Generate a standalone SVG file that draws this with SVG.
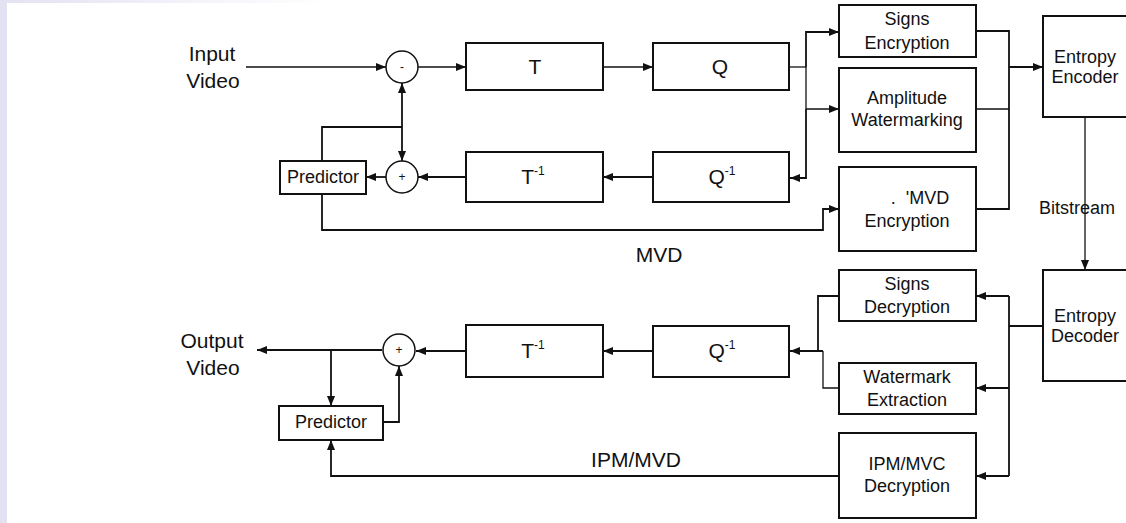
<svg xmlns="http://www.w3.org/2000/svg" width="1126" height="523" viewBox="0 0 1126 523">
<style>
text{font-family:"Liberation Sans",Arial,sans-serif;fill:#111;text-anchor:middle}
.t{font-size:18px}
.big{font-size:21px}
.op{font-size:12px}
.box{fill:#fff;stroke:#111;stroke-width:2}
.c{fill:none;stroke:#111;stroke-width:1.8}
.thin{stroke-width:1.3}
.arr{marker-end:url(#a)}
</style>
<defs>
<marker id="a" markerUnits="userSpaceOnUse" markerWidth="10" markerHeight="8" refX="10" refY="4" orient="auto">
<path d="M0,0 L10,4 L0,8 z" fill="#111"/>
</marker>
<linearGradient id="g" x1="0" x2="1" y1="0" y2="0">
<stop offset="0" stop-color="#e2e2f2"/>
<stop offset="1" stop-color="#ffffff"/>
</linearGradient>
</defs>
<rect width="1126" height="523" fill="#fff"/>
<rect x="0" y="0" width="330" height="3" fill="url(#g)"/>
<rect x="0" y="0" width="7" height="523" fill="#e2e2f2"/>

<g id="connectors">
<path class="c thin arr" d="M246,67 H386"/>
<path class="c thin arr" d="M418,67 H466"/>
<path class="c thin arr" d="M603,67 H653"/>
<path class="c thin" d="M789,67 H806"/>
<path class="c arr" d="M806,67 V32 H839"/>
<path class="c thin arr" d="M806,67 V109 H839"/>
<path class="c arr" d="M806,109 V178 H790"/>
<path class="c arr" d="M653,177 H603"/>
<path class="c arr" d="M466,177 H418"/>
<path class="c arr" d="M386,177 H366"/>
<path class="c" d="M322,161 V127 H402"/>
<path class="c arr" d="M402,127 V83"/>
<path class="c arr" d="M402,127 V161"/>
<path class="c arr" d="M322,194 V230 H823 V209 H839"/>
<path class="c" d="M976,31 H1009 V209 H976"/>
<path class="c thin" d="M976,109 H1009"/>
<path class="c arr" d="M1009,67 H1043"/>
<path class="c thin arr" d="M1085,117 V270"/>
<path class="c" d="M1043,326 H1009"/>
<path class="c" d="M1009,296 V476"/>
<path class="c arr" d="M1009,296 H976"/>
<path class="c arr" d="M1009,388 H976"/>
<path class="c arr" d="M1009,476 H976"/>
<path class="c" d="M839,296 H818 V351"/>
<path class="c thin" d="M839,388 H823 V351"/>
<path class="c arr" d="M823,351 H790"/>
<path class="c arr" d="M653,351 H603"/>
<path class="c arr" d="M466,351 H416"/>
<path class="c arr" d="M382,350 H257"/>
<path class="c arr" d="M331,350 V406"/>
<path class="c arr" d="M383,422 H399 V366"/>
<path class="c arr" d="M839,476 H331 V440"/>
</g>

<g id="labels">
<text class="big" x="212" y="61">Input</text>
<text class="big" x="213" y="88">Video</text>
<text class="big" x="212" y="348">Output</text>
<text class="big" x="213" y="375">Video</text>
<text class="big" x="659" y="262">MVD</text>
<text class="big" x="636" y="467">IPM/MVD</text>
<text class="t" x="1077" y="214">Bitstream</text>
</g>

<g id="sub1"><circle cx="402" cy="67" r="16" fill="#fff" stroke="#111" stroke-width="1.5"/><text class="op" x="402" y="71">-</text></g>
<g id="add1"><circle cx="402" cy="177" r="16" fill="#fff" stroke="#111" stroke-width="1.5"/><text class="op" x="402" y="181">+</text></g>
<g id="add2"><circle cx="399" cy="350" r="16" fill="#fff" stroke="#111" stroke-width="1.5"/><text class="op" x="399" y="354">+</text></g>

<g id="T"><rect class="box" x="466" y="43" width="137" height="47"/><text class="big" x="535" y="74">T</text></g>
<g id="Q"><rect class="box" x="653" y="43" width="136" height="47"/><text class="big" x="720" y="74">Q</text></g>
<g id="Tinv1"><rect class="box" x="466" y="152" width="137" height="50"/><text class="big" x="533" y="184">T<tspan font-size="12" dy="-9">-1</tspan></text></g>
<g id="Qinv1"><rect class="box" x="653" y="152" width="136" height="50"/><text class="big" x="722" y="184">Q<tspan font-size="12" dy="-9">-1</tspan></text></g>
<g id="pred1"><rect class="box" x="280" y="161" width="86" height="33"/><text class="t" x="323" y="183">Predictor</text></g>

<g id="signsEnc"><rect class="box" x="839" y="5" width="137" height="52"/><text class="t" x="907" y="25">Signs</text><text class="t" x="907" y="49">Encryption</text></g>
<g id="ampWm"><rect class="box" x="839" y="68" width="137" height="84"/><text class="t" x="907" y="104">Amplitude</text><text class="t" x="907" y="126">Watermarking</text></g>
<g id="mvdEnc"><rect class="box" x="839" y="167" width="137" height="84"/><text class="t" x="920" y="204" xml:space="preserve">.  'MVD</text><text class="t" x="907" y="227">Encryption</text></g>
<g id="entEnc"><rect class="box" x="1043" y="16" width="90" height="101"/><text class="t" x="1085" y="63">Entropy</text><text class="t" x="1085" y="83">Encoder</text></g>

<g id="entDec"><rect class="box" x="1043" y="270" width="90" height="111"/><text class="t" x="1085" y="322">Entropy</text><text class="t" x="1085" y="342">Decoder</text></g>
<g id="signsDec"><rect class="box" x="839" y="270" width="137" height="51"/><text class="t" x="907" y="290">Signs</text><text class="t" x="907" y="313">Decryption</text></g>
<g id="wmExt"><rect class="box" x="839" y="363" width="137" height="51"/><text class="t" x="907" y="383">Watermark</text><text class="t" x="907" y="406">Extraction</text></g>
<g id="ipmDec"><rect class="box" x="839" y="433" width="137" height="85"/><text class="t" x="907" y="470">IPM/MVC</text><text class="t" x="907" y="492">Decryption</text></g>
<g id="Qinv2"><rect class="box" x="653" y="326" width="136" height="51"/><text class="big" x="722" y="358">Q<tspan font-size="12" dy="-9">-1</tspan></text></g>
<g id="Tinv2"><rect class="box" x="466" y="325" width="137" height="52"/><text class="big" x="533" y="358">T<tspan font-size="12" dy="-9">-1</tspan></text></g>
<g id="pred2"><rect class="box" x="279" y="406" width="104" height="34"/><text class="t" x="331" y="428">Predictor</text></g>
</svg>
